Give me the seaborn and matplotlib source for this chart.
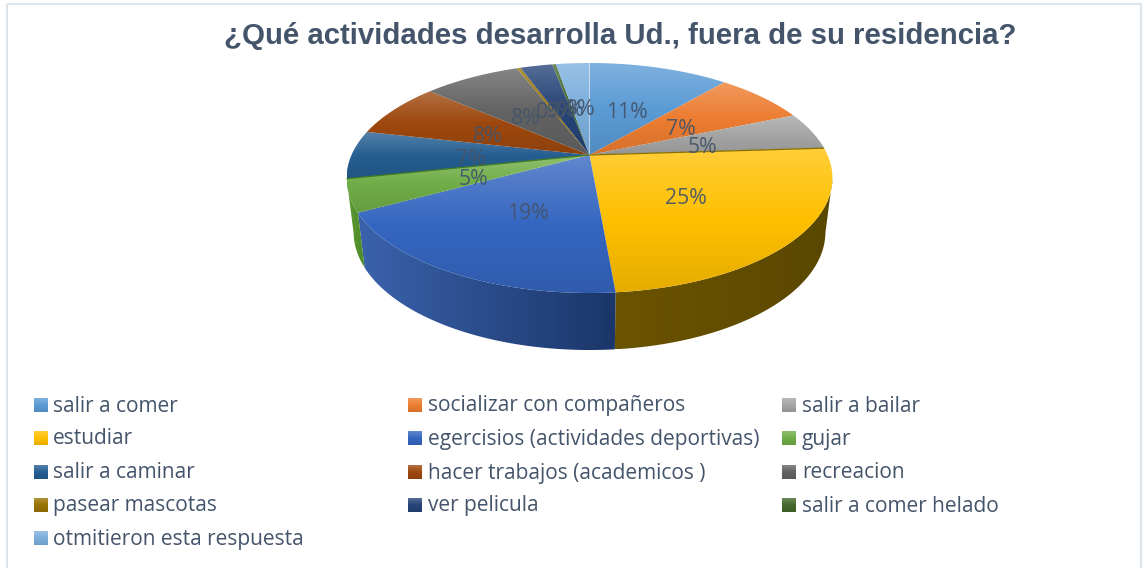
import numpy as np
import matplotlib
matplotlib.use("Agg")
import matplotlib.pyplot as plt
from matplotlib.patches import Polygon, Rectangle
from matplotlib.colors import to_rgb
import seaborn as sns

title = "¿Qué actividades desarrolla Ud., fuera de su residencia?"
categories = ["salir a comer", "socializar con compañeros", "salir a bailar", "estudiar",
              "egercisios (actividades deportivas)", "gujar", "salir a caminar",
              "hacer trabajos (academicos )", "recreacion", "pasear mascotas", "ver pelicula",
              "salir a comer helado", "otmitieron esta respuesta"]
values = [11.3, 7.4, 5.3, 24.6, 18.55, 4.55, 6.8, 7.8, 7.8, 0.3, 2.6, 0.3, 2.7]
colors = ["#5B9BD5", "#ED7D31", "#A5A5A5", "#FFC000", "#3566C0", "#70AD47", "#255E91",
          "#9E480E", "#636363", "#997300", "#264478", "#43682B", "#7CAFDD"]
wall_left = {3: "#6B5400", 4: "#3A62AC", 5: "#5A9A32"}
wall_right = {3: "#5A4800", 4: "#1B3669", 5: "#4F8A2A"}
spoke_colors = {(3, 1): "#8A7000", (5, 0): "#3F7A22"}

sns.set_theme(style="white")
TEXT = "#44546A"
BODY = "Open Sans"

W, H = 1144, 568
fig = plt.figure(figsize=(W / 100, H / 100), dpi=100)
helper = fig.add_axes([0, 0, 0.1, 0.1])
wedges, _ = helper.pie(values, startangle=90, counterclock=False)
spans = [(w.theta1, w.theta2) for w in wedges]
helper.remove()

ax = fig.add_axes([0, 0, 1, 1])
ax.set_axis_off()

AX, AY, C, A, D = 589.5, 155.0, 0.2, 110.4, 238.0
ECX, ECY, ERX, ERY = 589.5, 178.0, 243.0, 115.0
LCX, LCY, LRX, LRY = 589.5, 232.0, 236.0, 118.0


def project(u, v):
    k = 1 + C * v
    return AX + D * u / k, AY - A * v / k


def shade(rgb, f):
    rgb = np.array(rgb)
    return rgb * f if f <= 1 else rgb + (1 - rgb) * (f - 1)


def vgrad(col):
    base = to_rgb(col)
    stops = np.array([shade(base, 1.22), shade(base, 1.0), shade(base, 0.9)])
    t = np.linspace(0, 1, 128)
    return np.stack([np.interp(t, [0, 0.5, 1], stops[:, i]) for i in range(3)], axis=1)[:, None, :]


def paint(poly, img):
    x0, y0 = poly.min(axis=0)
    x1, y1 = poly.max(axis=0)
    im = ax.imshow(img, extent=(x0, x1, y1, y0), aspect="auto", interpolation="bilinear", zorder=2)
    patch = Polygon(poly, closed=True, transform=ax.transData, fill=False, edgecolor="none")
    ax.add_patch(patch)
    im.set_clip_path(patch)


# side wall
for i, (t1, t2) in enumerate(spans):
    if i not in wall_left:
        continue
    t = np.radians(np.linspace(t1, t2, 200))
    x, y = project(np.cos(t), np.sin(t))
    keep = y >= ECY
    x, y = x[keep], y[keep]
    cp, sp = (x - ECX) / ERX, (ECY - y) / ERY
    lx, ly = LCX + LRX * cp, LCY - LRY * sp
    poly = np.column_stack([np.r_[x, lx[::-1]], np.r_[y, ly[::-1]]])
    a, b = np.array(to_rgb(wall_left[i])), np.array(to_rgb(wall_right[i]))
    s = np.linspace(0, 1, 128)
    img = (a[None, :] * (1 - s[:, None]) + b[None, :] * s[:, None])[None, :, :]
    paint(poly, img)

# top face
for i, (t1, t2) in enumerate(spans):
    t = np.radians(np.linspace(t1, t2, 200))
    x, y = project(np.r_[0, np.cos(t)], np.r_[0, np.sin(t)])
    paint(np.column_stack([x, y]), vgrad(colors[i]))

# thin dark seams between some slices
for (i, side), col in spoke_colors.items():
    t = np.radians(spans[i][side])
    x, y = project(np.array([0, np.cos(t)]), np.array([0, np.sin(t)]))
    ax.plot(x, y, color=col, linewidth=0.9, zorder=2.5, solid_capstyle="butt")

# data labels
total = sum(values)
for i, (t1, t2) in enumerate(spans):
    t = np.radians((t1 + t2) / 2)
    x, y = project(0.5 * np.cos(t), 0.5 * np.sin(t))
    ax.text(x, y + 5, f"{round(values[i] / total * 100)}%", ha="center", va="center",
            fontsize=15.3, color=TEXT, family=BODY, alpha=0.92, zorder=3)

# legend
col_x = [34, 408, 782]
text_dx = [19, 20, 20]
row_y = [405, 438, 472, 505, 538]
for i, name in enumerate(categories):
    cx, cy = col_x[i % 3], row_y[i // 3]
    ax.imshow(vgrad(colors[i]), extent=(cx, cx + 14, cy + 7, cy - 7), aspect="auto", zorder=2)
    ax.text(cx + text_dx[i % 3], cy + 1, name, ha="left", va="center", fontsize=15.05, color=TEXT, family=BODY)

ax.text(620.5, 36.5, title, ha="center", va="center", fontsize=21.15, fontweight="bold",
        color=TEXT, family="Liberation Sans")

ax.add_patch(Rectangle((6.5, 3.5), 1134.5, H + 20, fill=False, edgecolor="#DEE4EC", linewidth=1.5, zorder=1))
ax.set_xlim(0, W)
ax.set_ylim(H, 0)
fig.savefig("out.png", dpi=100, facecolor="white")
